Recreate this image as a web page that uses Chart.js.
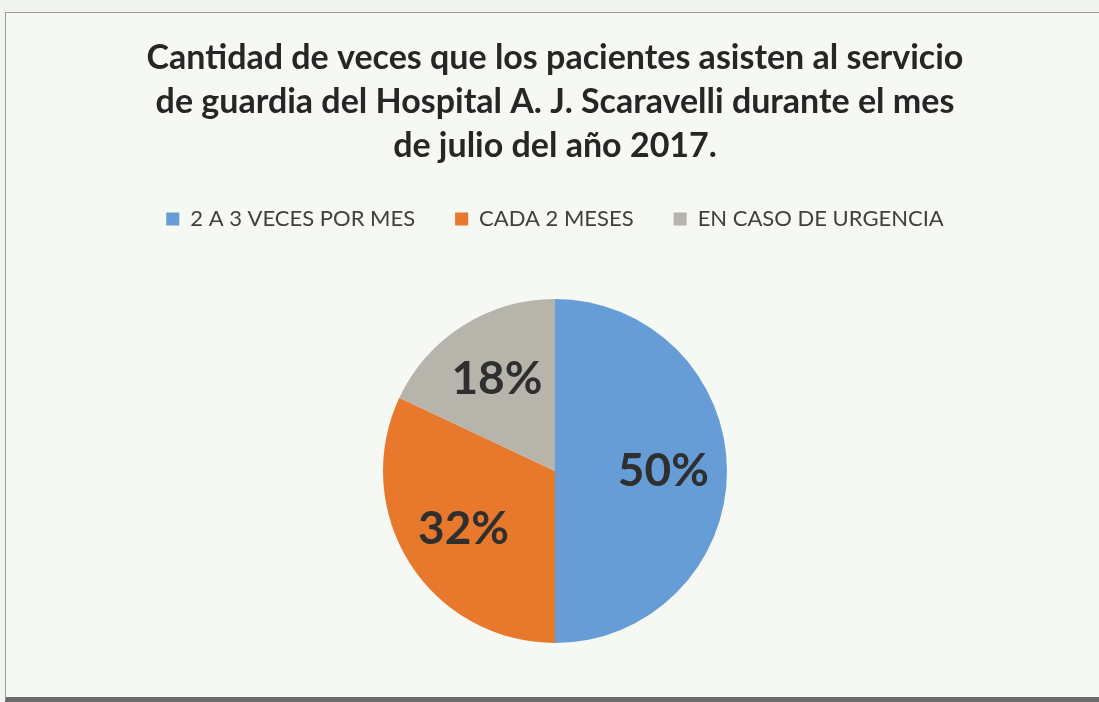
<!DOCTYPE html>
<html>
<head>
<meta charset="utf-8">
<script src="https://cdn.jsdelivr.net/npm/chart.js@4.4.1/dist/chart.umd.min.js"></script>
<style>
  html, body { margin: 0; padding: 0; background: #f1f4ef; }
  #frame {
    position: absolute; left: 5px; top: 12px; width: 1110px; height: 684px;
    background: #f5f8f3; border: 1px solid #9a9a9a; border-bottom: 5px solid #6a6a6a;
  }
  #wrap { position: absolute; left: 0; top: 0; width: 1099px; height: 702px; }
</style>
</head>
<body>
<div id="frame"></div>
<div id="wrap"><canvas id="chart"></canvas></div>
<script>
// Chart data
const categories = ["2 A 3 VECES POR MES", "CADA 2 MESES", "EN CASO DE URGENCIA"];
const percentValues = [50, 32, 18];
const sliceColors = ["#679dd6", "#e8782c", "#b7b4ac"];
const titleLines = [
  "Cantidad de veces que los pacientes asisten al servicio",
  "de guardia del Hospital A. J. Scaravelli durante el mes",
  "de julio del año 2017."
];

// Draw the % labels inside each slice
const sliceLabels = {
  id: "sliceLabels",
  afterDatasetsDraw(chart) {
    const ctx = chart.ctx;
    const meta = chart.getDatasetMeta(0);
    ctx.save();
    ctx.font = "bold 46px Lato";
    ctx.fillStyle = "#2f2f2f";
    ctx.textAlign = "center";
    ctx.textBaseline = "middle";
    meta.data.forEach((arc, i) => {
      const p = arc.getProps(["x", "y", "startAngle", "endAngle", "outerRadius"], true);
      const mid = (p.startAngle + p.endAngle) / 2;
      const r = p.outerRadius * 0.63;
      ctx.fillText(percentValues[i] + "%", p.x + Math.cos(mid) * r, p.y + Math.sin(mid) * r);
    });
    ctx.restore();
  },
};

const ctx = document.getElementById("chart").getContext("2d");
new Chart(ctx, {
  type: "pie",
  data: {
    labels: categories,
    datasets: [
      {
        data: percentValues,
        backgroundColor: sliceColors,
        borderWidth: 0,
      },
    ],
  },
  options: {
    responsive: true,
    maintainAspectRatio: false,
    animation: false,
    radius: 172,
    layout: { padding: { left: 11, right: 0, top: 0, bottom: 0 } },
    plugins: {
      title: {
        display: true,
        text: titleLines,
        color: "#262626",
        font: { family: "Lato", size: 34, weight: "bold", lineHeight: 1.294 },
        padding: { top: 36, bottom: 0 },
      },
      legend: {
        display: true,
        position: "top",
        labels: {
          color: "#404040",
          font: { family: "Lato", size: 22 },
          boxWidth: 13,
          boxHeight: 13,
          padding: 40,
        },
      },
      tooltip: { enabled: false },
    },
  },
  plugins: [sliceLabels],
});
</script>
</body>
</html>
